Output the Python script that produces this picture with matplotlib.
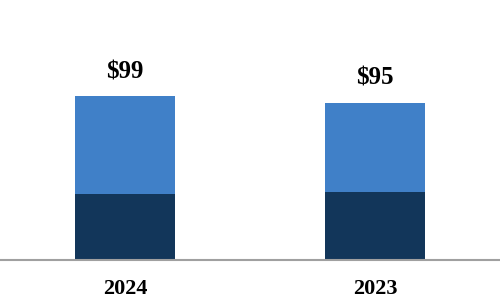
import matplotlib.pyplot as plt

# data
years = ['2024', '2023']
bottom_part = [40, 41]
top_part = [59, 54]
totals = [99, 95]

dark_col = '#12365a'
light_col = '#4080c8'

fig = plt.figure(figsize=(5, 3), dpi=100)
ax = fig.add_axes([0, 40 / 300, 1, 260 / 300])

x = list(range(len(years)))
ax.bar(x, bottom_part, width=0.4, color=dark_col)
ax.bar(x, top_part, width=0.4, bottom=bottom_part, color=light_col)

# total labels above bars
for i, t in enumerate(totals):
    ax.annotate(f'${t}', (x[i], t), xytext=(0, 17.5), textcoords='offset points',
                ha='center', va='center', fontsize=18, fontweight='bold',
                family='Liberation Serif')

ax.set_xlim(-0.5, 1.5)
ax.set_ylim(0, 157)
ax.set_xticks(x)
ax.set_xticklabels(years, fontsize=16, fontweight='bold', family='Liberation Serif')
ax.tick_params(axis='x', length=0, pad=14)
ax.set_yticks([])

for s in ['top', 'left', 'right']:
    ax.spines[s].set_visible(False)
ax.spines['bottom'].set_color('#a0a0a0')
ax.spines['bottom'].set_linewidth(1.5)

fig.savefig('out.png', dpi=100)
